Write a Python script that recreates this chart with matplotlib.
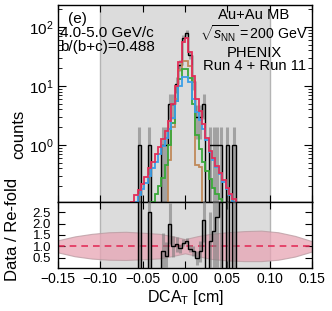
import numpy as np
import matplotlib
matplotlib.use("Agg")
import matplotlib.pyplot as plt
from matplotlib.ticker import LogLocator, NullFormatter, MultipleLocator, FixedLocator

plt.rcParams['font.family'] = ['Liberation Sans', 'DejaVu Sans']
plt.rcParams['mathtext.fontset'] = 'custom'
plt.rcParams['mathtext.rm'] = 'Liberation Sans'
plt.rcParams['mathtext.it'] = 'Liberation Sans:italic'

# ---- data ----
bin_edges = np.round(np.arange(-0.064, 0.0641, 0.004), 4)
data_counts = [0, 0, 1, 0, 0, 1, 0, 0, 0, 1, 1, 5, 5, 11, 23, 64,
               80, 34, 12, 3, 3, 5, 0, 1, 1, 1, 1, 0, 1, 0, 1, 0]
refold_total = [0.11, 0.14, 0.17, 0.22, 0.29, 0.4, 0.52, 0.7, 0.92, 1.25, 1.7, 2.5, 5, 10, 25, 55,
                65, 38, 15, 6, 3.8, 2.3, 1.3, 0.8, 0.6, 0.44, 0.34, 0.25, 0.19, 0.145, 0.12, 0.09]
charm = [0.08, 0.11, 0.14, 0.18, 0.23, 0.3, 0.4, 0.52, 0.7, 0.95, 1.3, 1.9, 2.9, 5.5, 10, 14,
         14.4, 11.5, 6, 3.6, 2.6, 1.9, 1.2, 0.75, 0.56, 0.42, 0.32, 0.24, 0.18, 0.14, 0.11, 0.085]
bottom = [0.01, 0.01, 0.01, 0.01, 0.01, 0.01, 0.11, 0.15, 0.2, 0.28, 0.45, 1.0, 2.4, 5.5, 13, 19.5,
          19.5, 13.5, 5, 1.5, 0.85, 0.52, 0.36, 0.26, 0.19, 0.15, 0.12, 0.01, 0.01, 0.01, 0.01, 0.01]
background = [0.01] * 11 + [0.55, 2, 6, 19, 27, 27, 22, 12, 0.45, 0.42] + [0.01] * 11

band_x = [-0.15, -0.13, -0.11, -0.09, -0.07, -0.05, -0.03, -0.015, 0.0,
          0.015, 0.03, 0.05, 0.07, 0.09, 0.11, 0.13, 0.15]
band_lo = [0.74, 0.57, 0.47, 0.42, 0.41, 0.44, 0.48, 0.58, 0.70,
           0.58, 0.46, 0.39, 0.36, 0.36, 0.42, 0.56, 0.78]
band_hi = [1.27, 1.44, 1.55, 1.62, 1.64, 1.60, 1.55, 1.45, 1.32,
           1.45, 1.55, 1.62, 1.67, 1.69, 1.62, 1.46, 1.23]

text_left = ["(e)", "4.0-5.0 GeV/c", "b/(b+c)=0.488"]
text_right = ["Au+Au MB", r"$\sqrt{s_{\rm NN}}=200$ GeV", "PHENIX", "Run 4 + Run 11"]

# ---- derived ----
data = np.array(data_counts, float)
tot = np.array(refold_total, float)
centers = 0.5 * (bin_edges[:-1] + bin_edges[1:])
err = np.sqrt(data)
ratio = np.where(tot > 0, data / tot, 0)
ratio_err = err / tot

RED = '#e3305a'
BLUE = '#3a9ee8'
GREEN = '#3aa83a'
BROWN = '#c08a5a'
GRAYBAND = '#dcdcdc'
ERRC = '#7c7c7c'

fig = plt.figure(figsize=(3.32, 3.11), dpi=100)
ax = fig.add_axes([0.1747, 0.3505, 0.7651, 0.6335])
axr = fig.add_axes([0.1747, 0.1383, 0.7651, 0.2122], sharex=ax)

for a in (ax, axr):
    a.axvspan(-0.1, 0.1, color=GRAYBAND, zorder=0, lw=0)
    a.axvline(-0.1, color='#b4b4b4', lw=1, zorder=0.5)
    a.axvline(0.1, color='#b4b4b4', lw=1, zorder=0.5)

# main panel
floor = 1e-3
m = data > 0
ax.vlines(centers[m], np.maximum(data[m] - err[m], floor), data[m] + err[m],
          color=ERRC, lw=2.2, alpha=0.6, zorder=2)
ax.stairs(np.where(data > 0, data, floor), bin_edges, color='black', lw=1.0, zorder=3)
ax.stairs(np.array(background), bin_edges, color=BROWN, lw=1.3, zorder=4)
ax.stairs(np.array(bottom), bin_edges, color=GREEN, lw=1.3, zorder=4)
ax.stairs(np.array(charm), bin_edges, color=BLUE, lw=1.3, zorder=5)
ax.stairs(tot, bin_edges, color=RED, lw=1.3, zorder=6)

ax.set_yscale('log')
ax.set_xlim(-0.15, 0.15)
ax.set_ylim(0.108, 236)
ax.yaxis.set_major_locator(LogLocator(base=10, numticks=10))
ax.yaxis.set_minor_locator(LogLocator(base=10, subs=np.arange(2, 10), numticks=20))
ax.yaxis.set_minor_formatter(NullFormatter())
ax.tick_params(axis='y', which='major', labelsize=11, length=6, direction='in', right=True, pad=3)
ax.tick_params(axis='y', which='minor', length=3, direction='in', right=True)
ax.tick_params(axis='x', which='both', direction='in', top=True, labelbottom=False, length=5)
ax.xaxis.set_major_locator(MultipleLocator(0.05))

ax.text(0.04, 0.909, text_left[0], transform=ax.transAxes, fontsize=11, va='baseline', ha='left')
ax.text(0.008, 0.838, text_left[1], transform=ax.transAxes, fontsize=11, va='baseline', ha='left')
ax.text(0.008, 0.766, text_left[2], transform=ax.transAxes, fontsize=11, va='baseline', ha='left')
ys = [0.928, 0.826, 0.736, 0.670]
sizes = [10.6, 10.2, 10.6, 10.6]
for t, yy, fs in zip(text_right, ys, sizes):
    ax.text(0.772, yy, t, transform=ax.transAxes, fontsize=fs, va='baseline', ha='center')

# ratio panel
bx = np.array(band_x)
axr.fill_between(bx, band_lo, band_hi, color='#e8a4b4', alpha=0.75, lw=0.8,
                 edgecolor='#b89aa0', zorder=1)
axr.axhline(1.0, color=RED, lw=1.2, ls=(0, (4, 3)), zorder=2)
mr = data > 0
axr.vlines(centers[mr], np.maximum(ratio[mr] - ratio_err[mr], 0), ratio[mr] + ratio_err[mr],
           color=ERRC, lw=2.2, alpha=0.6, zorder=3)
axr.stairs(ratio, bin_edges, color='black', lw=1.0, zorder=4)
axr.set_ylim(0.06, 2.94)
axr.yaxis.set_major_locator(FixedLocator([0.5, 1.0, 1.5, 2.0, 2.5]))
axr.set_yticklabels(['0.5', '1.0', '1.5', '2.0', '2.5'])
axr.tick_params(axis='y', which='major', labelsize=9.5, length=5, direction='in', right=True, pad=5)
axr.tick_params(axis='x', which='major', labelsize=10, length=5, direction='in', top=True, pad=3)
axr.set_xticks([-0.15, -0.10, -0.05, 0.0, 0.05, 0.10, 0.15])
axr.set_xticklabels(['\u22120.15', '\u22120.10', '\u22120.05', '0.00', '0.05', '0.10', '0.15'])
axr.set_xlabel(r'DCA$_{\rm T}$ [cm]', fontsize=11.5, labelpad=1)

fig.text(19 / 332, 1 - 134 / 311, 'counts', rotation=90, fontsize=12, ha='center', va='center')
fig.text(13 / 332, 1 - 229 / 311, 'Data / Re-fold', rotation=90, fontsize=12, ha='center', va='center')

for a in (ax, axr):
    for s in a.spines.values():
        s.set_linewidth(1.0)

fig.savefig('out.png', dpi=100)
